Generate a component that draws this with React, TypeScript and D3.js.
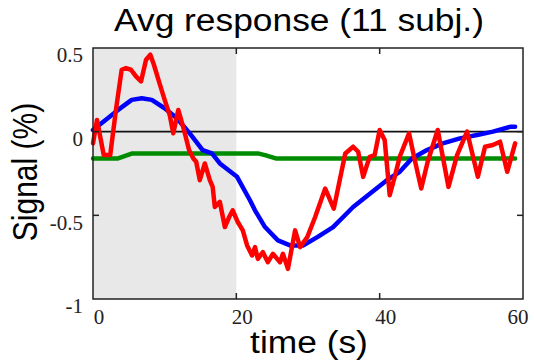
import * as d3 from "d3";

const W = 534;
const H = 362;
const X0 = 93;
const X1 = 523;
const Y0 = 48;
const Y1 = 299;

const TITLE = "Avg response (11 subj.)";
const X_LABEL = "time (s)";
const Y_LABEL = "Signal (%)";

const X_TICKS = [0, 20, 40, 60];
const Y_TICKS = [0.5, 0, -0.5, -1];
const Y_TICK_LABELS = ["0.5", "0", "-0.5", "-1"];
const BLOCK = [0, 20];

// red: noisy average trace
const redT = [
  0, 0.56, 1.5, 2.4, 3.2, 4.0, 4.6, 5.3, 6.0, 6.7, 7.4, 8.0, 8.5, 9.2, 10.0,
  10.7, 11.2, 11.9, 12.7, 13.4, 14.0, 14.4, 14.9, 15.6, 16.3, 16.7, 17.0, 17.7,
  18.4, 19.0, 19.5, 20.2, 20.9, 21.5, 22.2, 22.6, 23.0, 23.7, 24.4, 25.1, 26.1,
  26.5, 27.2, 28.2, 28.9, 29.9, 31.0, 32.4, 33.6, 35.2, 36.3, 37.0, 37.7, 38.6,
  39.3, 40.0, 40.7, 41.4, 42.1, 42.8, 44.1, 44.9, 45.8, 46.7, 48.1, 49.6, 50.8,
  52.2, 53.7, 54.7, 55.8, 56.8, 57.8, 58.9,
];
const redV = [
  -0.07, 0.07, -0.14, -0.14, 0.13, 0.37, 0.38, 0.37, 0.33, 0.3, 0.43, 0.46, 0.4,
  0.3, 0.19, 0.1, -0.01, 0.13, 0.01, -0.11, -0.16, -0.18, -0.29, -0.19, -0.29,
  -0.33, -0.45, -0.42, -0.57, -0.51, -0.47, -0.54, -0.59, -0.68, -0.74, -0.69,
  -0.76, -0.72, -0.78, -0.73, -0.78, -0.73, -0.82, -0.59, -0.69, -0.63, -0.51,
  -0.34, -0.46, -0.13, -0.09, -0.12, -0.27, -0.15, -0.14, 0.01, -0.05, -0.38,
  -0.27, -0.15, -0.01, -0.17, -0.34, -0.18, 0.01, -0.33, -0.14, 0, -0.27, -0.09,
  -0.08, -0.06, -0.24, -0.07,
];

// blue: smooth model fit
const blueT = [
  0, 3.5, 5.4, 6.8, 8.2, 10.0, 11.7, 13.5, 15.3, 16.6, 17.7, 20.1, 21.9, 22.6,
  24.0, 25.8, 27.5, 29.3, 31.3, 33.5, 36.3, 41.0, 42.8, 44.5, 46.6, 48.8, 51.2,
  53.6, 55.8, 58.3, 58.9,
];
const blueV = [
  0.01, 0.13, 0.19, 0.2, 0.19, 0.14, 0.08, -0.01, -0.11, -0.13, -0.19, -0.27,
  -0.41, -0.47, -0.57, -0.65, -0.68, -0.68, -0.63, -0.57, -0.45, -0.29, -0.24,
  -0.16, -0.11, -0.07, -0.04, -0.02, 0.0, 0.03, 0.03,
];

// green: baseline
const greenT = [0, 3.5, 4.5, 5.5, 23, 24, 25.5, 58.9];
const greenV = [-0.16, -0.16, -0.145, -0.13, -0.13, -0.14, -0.16, -0.16];

const SERIES = [
  { t: greenT, v: greenV, color: "#008c00" },
  { t: blueT, v: blueV, color: "#0000ff" },
  { t: redT, v: redV, color: "#ff0000" },
];

// the figure is a bit wider than tall, so text gets stretched horizontally
const SX = 1.14;

export default function App() {
  const x = d3.scaleLinear().domain([0, 60]).range([X0, X1]);
  const y = d3.scaleLinear().domain([-1, 0.5]).range([Y1, Y0]);

  const line = d3
    .line<[number, number]>()
    .x((d) => x(d[0]))
    .y((d) => y(d[1]));

  const tickLen = 6;
  const serif = "'Liberation Serif', 'Times New Roman', serif";
  const sans = "'Liberation Sans', Arial, sans-serif";

  return (
    <svg
      width={W}
      height={H}
      viewBox={`0 0 ${W} ${H}`}
      style={{ position: "absolute", left: 0, top: 0, background: "#fff" }}
    >
      <rect
        x={x(BLOCK[0])}
        y={Y0}
        width={x(BLOCK[1]) - x(BLOCK[0])}
        height={Y1 - Y0}
        fill="#e8e8e8"
      />

      <line x1={X0} x2={X1} y1={y(0)} y2={y(0)} stroke="#111" strokeWidth={1.6} />

      {SERIES.map((s, i) => (
        <path
          key={i}
          d={line(s.t.map((t, j) => [t, s.v[j]] as [number, number])) ?? ""}
          fill="none"
          stroke={s.color}
          strokeWidth={4.5}
          strokeLinejoin="round"
          strokeLinecap="round"
        />
      ))}

      <g stroke="#222" strokeWidth={1.5} fill="none">
        <rect x={X0} y={Y0} width={X1 - X0} height={Y1 - Y0} />
        {X_TICKS.slice(1, -1).map((t) => (
          <g key={`xt${t}`}>
            <line x1={x(t)} x2={x(t)} y1={Y1} y2={Y1 - tickLen} />
            <line x1={x(t)} x2={x(t)} y1={Y0} y2={Y0 + tickLen} />
          </g>
        ))}
        {Y_TICKS.slice(1, -1).map((t) => (
          <g key={`yt${t}`}>
            <line x1={X0} x2={X0 + tickLen} y1={y(t)} y2={y(t)} />
            <line x1={X1} x2={X1 - tickLen} y1={y(t)} y2={y(t)} />
          </g>
        ))}
      </g>

      <g fontFamily={serif} fontSize={21} fill="#222">
        {Y_TICKS.map((t, i) => (
          <text key={`yl${t}`} x={X0 - 10} y={y(t) + 7} dy="0.35em" textAnchor="end">
            {Y_TICK_LABELS[i]}
          </text>
        ))}
        {X_TICKS.map((t, i) => (
          <text
            key={`xl${t}`}
            x={x(t) + (i === X_TICKS.length - 1 ? -5 : 6)}
            y={Y1 + 25}
            textAnchor="middle"
          >
            {t}
          </text>
        ))}
      </g>

      <text
        transform={`translate(299,31) scale(${SX},1)`}
        fontFamily={sans}
        fontSize={31}
        textAnchor="middle"
        fill="#000"
      >
        {TITLE}
      </text>
      <text
        transform={`translate(37,172) scale(${SX},1) rotate(-90)`}
        fontFamily={sans}
        fontSize={30}
        textAnchor="middle"
        fill="#000"
      >
        {Y_LABEL}
      </text>
      <text
        transform={`translate(309,353) scale(${SX},1)`}
        fontFamily={sans}
        fontSize={31}
        textAnchor="middle"
        fill="#000"
      >
        {X_LABEL}
      </text>
    </svg>
  );
}
